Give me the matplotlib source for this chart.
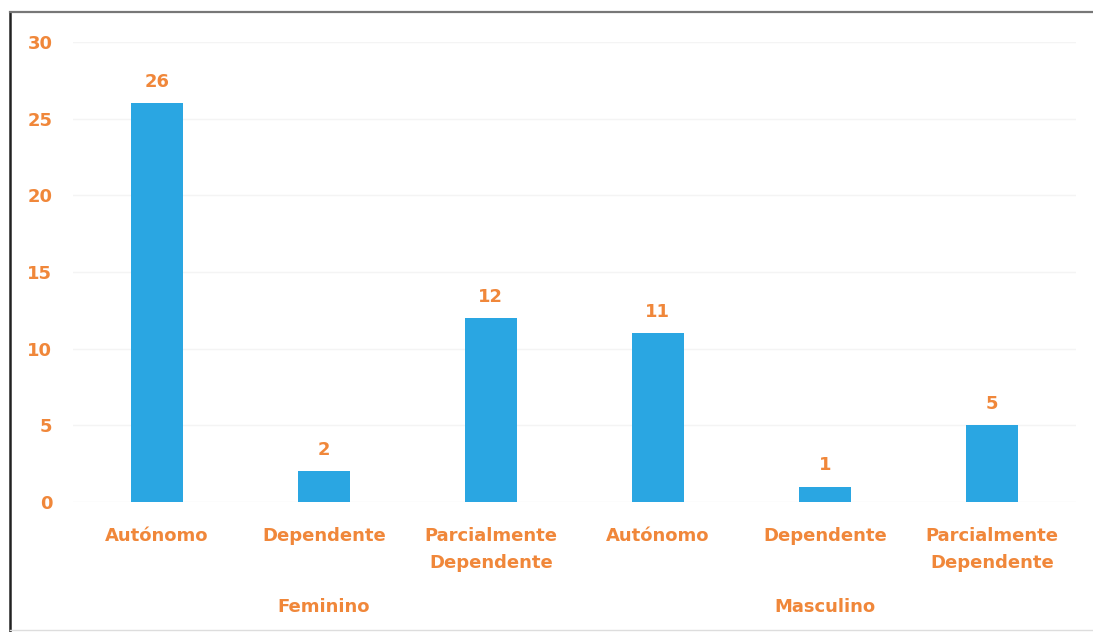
import numpy as np
import matplotlib
matplotlib.use('Agg')
import matplotlib.pyplot as plt
from matplotlib.lines import Line2D
import matplotlib.transforms as mtransforms

# categorias de dependência por sexo
grupos = ['Feminino', 'Masculino']
categorias = ['Autónomo', 'Dependente', 'Parcialmente\nDependente']
valores = [26, 2, 12, 11, 1, 5]

laranja = '#F0873A'
azul = '#2AA6E2'

plt.rcParams['font.family'] = ['DejaVu Sans']
plt.rcParams['font.weight'] = 'bold'

fig = plt.figure(figsize=(10.93, 6.32), dpi=100)
ax = fig.add_axes([0.067, 0.2057, 0.917, 0.728])

rotulos = categorias * len(grupos)
x = np.arange(len(valores))
barras = ax.bar(x, valores, width=0.31, color=azul, zorder=3)

for xi, v in zip(x, valores):
    ax.text(xi, v + 0.8, str(v), ha='center', va='bottom', color=laranja,
            fontsize=13, fontweight='bold')

ax.set_ylim(0, 30)
ax.set_xlim(-0.5, len(valores) - 0.5)
ax.set_yticks(range(0, 31, 5))
ax.set_xticks(x)
ax.set_xticklabels(rotulos, color=laranja, fontsize=13, fontweight='bold',
                   linespacing=1.65)
ax.tick_params(axis='y', colors=laranja, labelsize=13, length=0, pad=15)
ax.tick_params(axis='x', length=0, pad=18)
for lab in ax.get_yticklabels():
    lab.set_fontweight('bold')

ax.grid(axis='y', color='#f4f4f4', linewidth=1, zorder=0)
for s in ax.spines.values():
    s.set_visible(False)

# nome do sexo por baixo de cada grupo
trans = mtransforms.blended_transform_factory(ax.transData, fig.transFigure)
for i, g in enumerate(grupos):
    centro = i * len(categorias) + (len(categorias) - 1) / 2
    ax.text(centro, 1 - 607 / 632, g, transform=trans, ha='center', va='center',
            color=laranja, fontsize=13, fontweight='bold')

# moldura
fig.add_artist(Line2D([10 / 1093, 10 / 1093], [0, 1 - 12 / 632],
                      transform=fig.transFigure, color='#222222', linewidth=1.8))
fig.add_artist(Line2D([10 / 1093, 1], [1 - 12 / 632, 1 - 12 / 632],
                      transform=fig.transFigure, color='#777777', linewidth=1.6))
fig.add_artist(Line2D([10 / 1093, 1], [2 / 632, 2 / 632],
                      transform=fig.transFigure, color='#dddddd', linewidth=1))

fig.savefig('out.png', dpi=100)
